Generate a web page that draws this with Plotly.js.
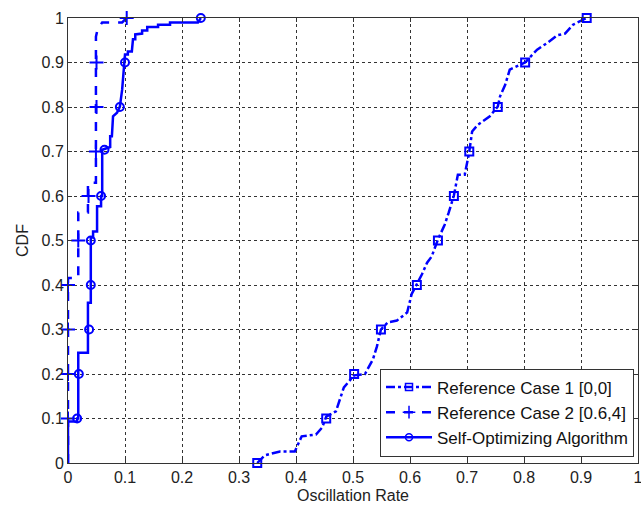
<!DOCTYPE html>
<html>
<head>
<meta charset="utf-8">
<script src="https://cdn.plot.ly/plotly-3.0.1.min.js"></script>
<style>html,body{margin:0;padding:0;background:#fff;}#chart{width:641px;height:508px;}</style>
</head>
<body>
<div id="chart"></div>
<script>
// Reference Case 1 [0,0] — CDF curve
const case1X = [0.332,0.345,0.372,0.398,0.41,0.435,0.446,0.453,0.47,0.477,0.484,0.502,0.521,0.535,0.542,0.549,0.561,0.577,0.595,0.603,0.612,0.621,0.63,0.638,0.649,0.661,0.668,0.677,0.684,0.696,0.702,0.704,0.709,0.719,0.74,0.754,0.758,0.767,0.775,0.788,0.802,0.823,0.832,0.842,0.858,0.872,0.886,0.91];
const case1Y = [0,0.017,0.026,0.026,0.06,0.064,0.08,0.104,0.116,0.143,0.17,0.197,0.2,0.233,0.262,0.3,0.316,0.32,0.338,0.38,0.401,0.424,0.45,0.464,0.502,0.536,0.563,0.601,0.648,0.648,0.686,0.7,0.745,0.76,0.779,0.801,0.824,0.85,0.884,0.891,0.9,0.929,0.936,0.945,0.961,0.965,0.985,1.0];
const case1MarkX = [0.332,0.453,0.502,0.549,0.612,0.649,0.677,0.704,0.754,0.802,0.91];
const case1MarkY = [0,0.1,0.2,0.3,0.4,0.5,0.6,0.7,0.8,0.9,1.0];

// Reference Case 2 [0.6,4]
const case2X = [0,0,0.018,0.018,0.035,0.035,0.049,0.049,0.052,0.06,0.095,0.103];
const case2Y = [0,0.416,0.416,0.563,0.563,0.63,0.63,0.958,0.975,0.99,0.99,1.0];
const case2MarkX = [0,0,0,0,0.018,0.036,0.049,0.05,0.05,0.103];
const case2MarkY = [0.1,0.2,0.3,0.4,0.5,0.6,0.7,0.8,0.9,1.0];

// Self-Optimizing Algorithm
const selfX = [0,0,0.016,0.016,0.018,0.018,0.035,0.035,0.04,0.04,0.044,0.044,0.051,0.051,0.058,0.058,0.06,0.06,0.074,0.074,0.077,0.079,0.086,0.091,0.095,0.097,0.1,0.1,0.105,0.105,0.112,0.114,0.118,0.118,0.13,0.13,0.139,0.139,0.158,0.158,0.179,0.179,0.228,0.233];
const selfY = [0,0.093,0.093,0.1,0.1,0.248,0.248,0.36,0.36,0.507,0.507,0.52,0.52,0.577,0.577,0.6,0.6,0.704,0.71,0.734,0.734,0.779,0.787,0.801,0.839,0.868,0.9,0.918,0.918,0.925,0.925,0.952,0.952,0.963,0.965,0.972,0.972,0.98,0.98,0.985,0.985,0.99,0.99,1.0];
const selfMarkX = [0.016,0.019,0.037,0.04,0.04,0.058,0.064,0.091,0.1,0.233];
const selfMarkY = [0.1,0.2,0.3,0.4,0.5,0.6,0.704,0.8,0.9,1.0];

const seriesNames = ['Reference Case 1 [0,0]','Reference Case 2 [0.6,4]','Self-Optimizing Algorithm'];
const xTicks = [0,0.1,0.2,0.3,0.4,0.5,0.6,0.7,0.8,0.9,1];
const xTickText = ['0','0.1','0.2','0.3','0.4','0.5','0.6','0.7','0.8','0.9','1'];
const yTicks = [0,0.1,0.2,0.3,0.4,0.5,0.6,0.7,0.8,0.9,1];
const yTickText = ['0','0.1','0.2','0.3','0.4','0.5','0.6','0.7','0.8','0.9','1'];

const blue = '#0000ff';
const styles = [
  {dash:'dashdot', symbol:'square-open', size:8},
  {dash:'dash', symbol:'cross-thin-open', size:10},
  {dash:'solid', symbol:'circle-open', size:8}
];
const lines = [[case1X,case1Y],[case2X,case2Y],[selfX,selfY]];
const marks = [[case1MarkX,case1MarkY],[case2MarkX,case2MarkY],[selfMarkX,selfMarkY]];

const traces = [];
for (let i=0;i<3;i++){
  traces.push({x:lines[i][0], y:lines[i][1], mode:'lines', showlegend:false,
    line:{color:blue, width:2.5, dash:styles[i].dash}, cliponaxis:false, hoverinfo:'skip'});
  traces.push({x:marks[i][0], y:marks[i][1], mode:'markers', showlegend:false, cliponaxis:false,
    marker:{color:blue, symbol:styles[i].symbol, size:styles[i].size, line:{color:blue, width:2}}});
}
for (let i=0;i<3;i++){
  traces.push({x:[null], y:[null], mode:'lines+markers', name:seriesNames[i], showlegend:true,
    line:{color:blue, width:2.5, dash:styles[i].dash},
    marker:{color:blue, symbol:styles[i].symbol, size:styles[i].size-1, line:{color:blue, width:1.5}}});
}

const font = {family:'"Liberation Sans", Arial, sans-serif', size:16, color:'#222'};
const layout = {
  width:641, height:508,
  margin:{l:68, r:3, t:18, b:45},
  paper_bgcolor:'#fff', plot_bgcolor:'#fff',
  font:font,
  showlegend:true,
  xaxis:{range:[0,1], tickvals:xTicks, ticktext:xTickText, showgrid:true, gridcolor:'#333', griddash:'dot', gridwidth:1,
    zeroline:false, showline:true, linecolor:'#333', linewidth:1, mirror:'ticks', ticks:'inside', ticklen:4, tickcolor:'#333',
    ticklabeloverflow:'allow', tickfont:font,
    title:{text:'Oscillation Rate', font:font, standoff:4}, fixedrange:true},
  yaxis:{range:[0,1], tickvals:yTicks, ticktext:yTickText, showgrid:true, gridcolor:'#333', griddash:'dot', gridwidth:1,
    zeroline:false, showline:true, linecolor:'#333', linewidth:1, mirror:'ticks', ticks:'inside', ticklen:4, tickcolor:'#333',
    tickfont:font,
    title:{text:'CDF', font:font, standoff:8}, fixedrange:true},
  legend:{x:0.993, y:0.0146, xanchor:'right', yanchor:'bottom', bgcolor:'#fff', bordercolor:'#333', borderwidth:1,
    font:{family:'"Liberation Sans", Arial, sans-serif', size:17, color:'#111'}, itemwidth:46, tracegroupgap:0}
};
Plotly.newPlot('chart', traces, layout, {displayModeBar:false, staticPlot:true});
</script>
</body>
</html>
